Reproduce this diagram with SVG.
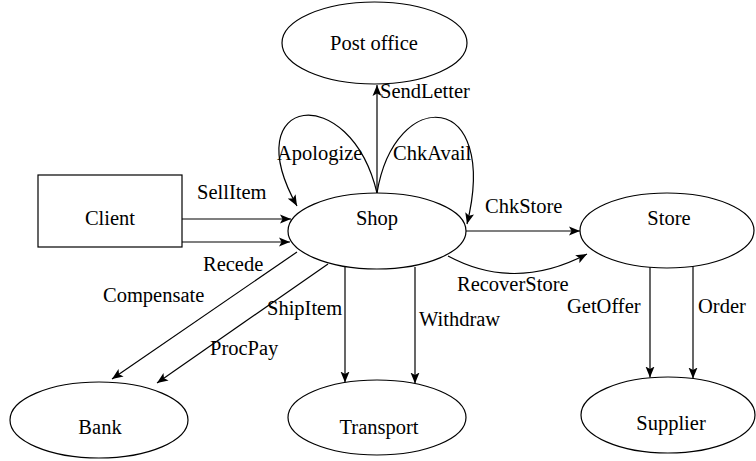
<svg xmlns="http://www.w3.org/2000/svg" width="756" height="461" viewBox="0 0 756 461">
<style>
.n{fill:#fff;stroke:#000;stroke-width:1.2}
.e{fill:none;stroke:#000;stroke-width:1.2;marker-end:url(#ah)}
</style>
<defs>
<marker id="ah" markerUnits="userSpaceOnUse" markerWidth="12" markerHeight="10" viewBox="0 0 12 10" refX="11" refY="5" orient="auto">
<path d="M0,0.5 L11,5 L0,9.5 L2.5,5 Z" fill="#000"/>
</marker>
</defs>
<rect width="756" height="461" fill="#fff"/>
<g font-family="'Liberation Serif', Tinos, 'Times New Roman', Times, 'Nimbus Roman', 'FreeSerif', 'Noto Serif', serif" font-size="20.5" fill="#000">
<g id="connectors">
<path class="e" d="M377,193 L377,85"/>
<path class="e" d="M377,193 C350,80 235,95 297,206"/>
<path class="e" d="M377,193 C395,85 500,90 467,224"/>
<path class="e" d="M182,219 L291,219"/>
<path class="e" d="M182,242 L290,242"/>
<path class="e" d="M466,231 L580,231"/>
<path class="e" d="M448,256 Q515,292 587,254"/>
<path class="e" d="M297,252 L112,379"/>
<path class="e" d="M328,264 L157,383"/>
<path class="e" d="M345,267 L345,382.5"/>
<path class="e" d="M415,267 L415,383.5"/>
<path class="e" d="M650,267 L650,377.5"/>
<path class="e" d="M693,266 L693,378.5"/>
</g>
<g id="edge-labels">
<text x="380" y="98">SendLetter</text>
<text x="277" y="160">Apologize</text>
<text x="393" y="160">ChkAvail</text>
<text x="197" y="199">SellItem</text>
<text x="203" y="271">Recede</text>
<text x="485" y="213">ChkStore</text>
<text x="457" y="291">RecoverStore</text>
<text x="103" y="302">Compensate</text>
<text x="267" y="315">ShipItem</text>
<text x="210" y="355">ProcPay</text>
<text x="419" y="326">Withdraw</text>
<text x="567" y="313">GetOffer</text>
<text x="698" y="313">Order</text>
</g>
<g id="post-office">
<ellipse class="n" cx="374.5" cy="43" rx="92.5" ry="41"/>
<text text-anchor="middle" x="374" y="50">Post office</text>
</g>
<g id="client">
<rect class="n" x="38" y="175" width="144" height="72"/>
<text text-anchor="middle" x="110" y="225">Client</text>
</g>
<g id="shop">
<ellipse class="n" cx="377" cy="231" rx="89" ry="38"/>
<text text-anchor="middle" x="377" y="225">Shop</text>
</g>
<g id="store">
<ellipse class="n" cx="667" cy="230.5" rx="87" ry="37.5"/>
<text text-anchor="middle" x="669" y="225">Store</text>
</g>
<g id="bank">
<ellipse class="n" cx="99" cy="420" rx="89" ry="38"/>
<text text-anchor="middle" x="100" y="434">Bank</text>
</g>
<g id="transport">
<ellipse class="n" cx="377" cy="417.5" rx="89" ry="37.5"/>
<text text-anchor="middle" x="379" y="434">Transport</text>
</g>
<g id="supplier">
<ellipse class="n" cx="668" cy="415" rx="87" ry="38"/>
<text text-anchor="middle" x="671" y="430">Supplier</text>
</g>
</g>
</svg>
